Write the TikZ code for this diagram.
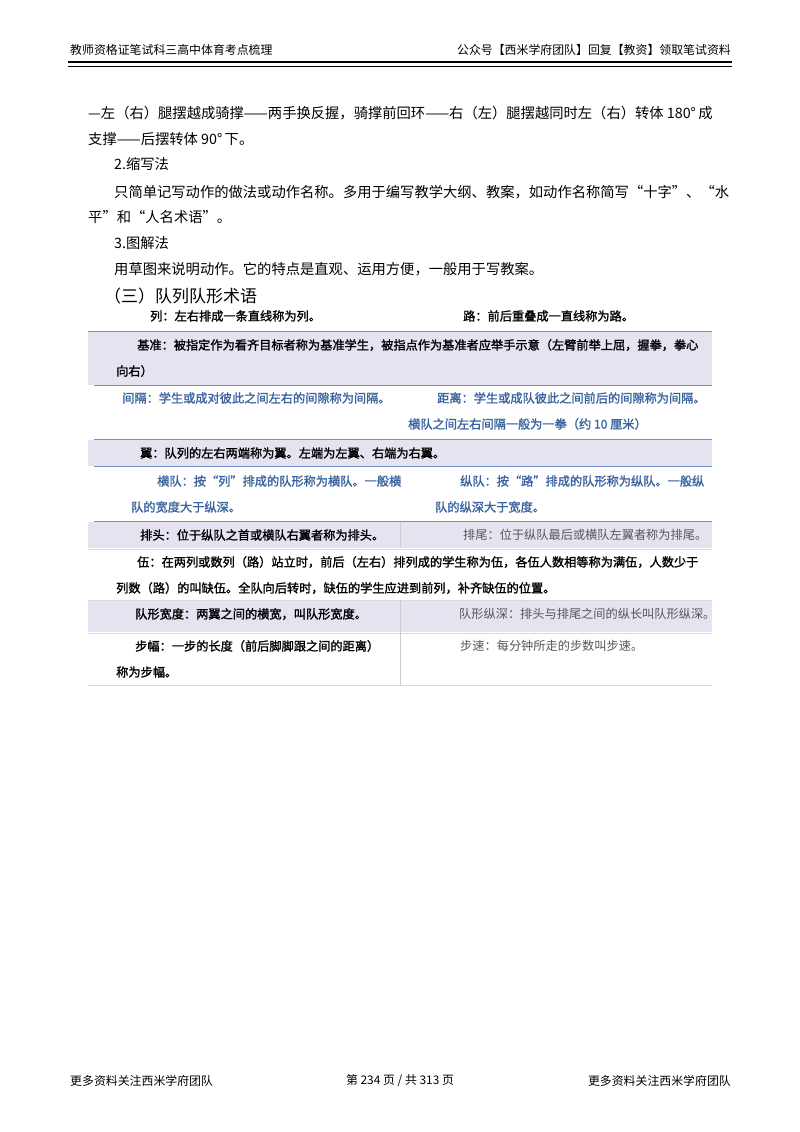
\documentclass[tikz,border=0pt]{standalone}
\usepackage{fontspec}
\setmainfont{Liberation Serif}
\newfontfamily\cjk{Noto Sans CJK SC}
\newfontfamily\cjkb{Noto Sans CJK SC}[FakeBold=1.5]
\definecolor{lav}{HTML}{E6E3F0}
\definecolor{bline}{HTML}{6F8FC6}
\definecolor{btext}{HTML}{3A64A0}
\definecolor{gtext}{HTML}{555555}
\begin{document}
\begin{tikzpicture}[x=1pt,y=-1pt,
  body/.style={anchor=west,inner sep=0,font=\cjk\fontsize{14.3}{16}\selectfont},
  tb/.style={anchor=west,inner sep=0,font=\cjkb\fontsize{12.2}{14}\selectfont},
  tbb/.style={tb,text=btext},
  tg/.style={anchor=west,inner sep=0,font=\cjk\fontsize{12.2}{14}\selectfont,text=gtext},
  hd/.style={anchor=west,inner sep=0,font=\cjk\fontsize{11.9}{13}\selectfont}]
\useasboundingbox (0,0) rectangle (800,1132);
\fill[white] (0,0) rectangle (800,1132);
% header
\node[hd] (h1) at (70,50) {教师资格证笔试科三高中体育考点梳理};
\node[hd,anchor=east] (h2) at (731,50) {公众号【西米学府团队】回复【教资】领取笔试资料};
\draw[line width=1.6pt] (68,62) -- (732,62);
\draw[line width=0.5pt] (68,66) -- (732,66);
% body
\node[body] (t1) at (88,113) {—左（右）腿摆越成骑撑——两手换反握，骑撑前回环——右（左）腿摆越同时左（右）转体 180°\,成};
\node[body] (t2) at (88,139) {支撑——后摆转体 90°\,下。};
\node[body] (t3) at (114,164) {2.缩写法};
\node[body] (t4) at (114,192) {只简单记写动作的做法或动作名称。多用于编写教学大纲、教案，如动作名称简写“十字”、“水};
\node[body] (t5) at (88,217) {平”和“人名术语”。};
\node[body] (t6) at (114,243) {3.图解法};
\node[body] (t7) at (114,269) {用草图来说明动作。它的特点是直观、运用方便，一般用于写教案。};
\node[body,font=\cjk\fontsize{17}{19}\selectfont] (t8) at (104,296) {（三）队列队形术语};
% table backgrounds
\fill[lav] (88,331) rectangle (712,385);
\fill[lav] (88,440) rectangle (712,466);
\fill[lav] (88,522) rectangle (712,548);
\fill[lav] (88,601) rectangle (712,632);
\draw[bline,line width=0.9pt] (88,331) -- (712,331);
\draw[bline,line width=0.9pt] (94,385) -- (712,385);
\draw[bline,line width=0.9pt] (94,439) -- (712,439);
\draw[bline,line width=0.9pt] (94,466) -- (712,466);
\draw[bline,line width=0.9pt] (94,521) -- (712,521);
\draw[gray!30,line width=0.6pt] (88,549) -- (712,549);
\draw[gray!30,line width=0.6pt] (88,600) -- (712,600);
\draw[gray!30,line width=0.6pt] (88,633) -- (712,633);
\draw[gray!30,line width=0.6pt] (88,685) -- (712,685);
\draw[gray!40,line width=0.6pt] (400,522) -- (400,548);
\draw[gray!40,line width=0.6pt] (400,601) -- (400,685);
% table text
\node[tb] (r1a) at (150,316) {列：左右排成一条直线称为列。};
\node[tb] (r1b) at (463,316) {路：前后重叠成一直线称为路。};
\node[tb] (r2a) at (137,345) {基准：被指定作为看齐目标者称为基准学生，被指点作为基准者应举手示意（左臂前举上屈，握拳，拳心};
\node[tb] (r2b) at (116,371) {向右）};
\node[tbb] (r3a) at (122,398) {间隔：学生或成对彼此之间左右的间隙称为间隔。};
\node[tbb] (r3b) at (437,398) {距离：学生或成队彼此之间前后的间隙称为间隔。};
\node[tbb] (r3c) at (408,424) {横队之间左右间隔一般为一拳（约 10 厘米）};
\node[tb] (r4) at (140,453) {翼：队列的左右两端称为翼。左端为左翼、右端为右翼。};
\node[tbb] (r5a) at (157,481) {横队：按“列”排成的队形称为横队。一般横};
\node[tbb] (r5b) at (131,507) {队的宽度大于纵深。};
\node[tbb] (r5c) at (460,481) {纵队：按“路”排成的队形称为纵队。一般纵};
\node[tbb] (r5d) at (435,507) {队的纵深大于宽度。};
\node[tb] (r6a) at (140,535) {排头：位于纵队之首或横队右翼者称为排头。};
\node[tg] (r6b) at (463,535) {排尾：位于纵队最后或横队左翼者称为排尾。};
\node[tb] (r7a) at (137,562) {伍：在两列或数列（路）站立时，前后（左右）排列成的学生称为伍，各伍人数相等称为满伍，人数少于};
\node[tb] (r7b) at (116,588) {列数（路）的叫缺伍。全队向后转时，缺伍的学生应进到前列，补齐缺伍的位置。};
\node[tb] (r8a) at (135,614) {队形宽度：两翼之间的横宽，叫队形宽度。};
\node[tg] (r8b) at (459,614) {队形纵深：排头与排尾之间的纵长叫队形纵深。};
\node[tb] (r9a) at (135,646) {步幅：一步的长度（前后脚脚跟之间的距离）};
\node[tb] (r9b) at (116,672) {称为步幅。};
\node[tg] (r9c) at (460,646) {步速：每分钟所走的步数叫步速。};
% footer
\node[hd] (f1) at (70,1081) {更多资料关注西米学府团队};
\node[hd,anchor=center] (f2) at (400,1081) {第 234 页 / 共 313 页};
\node[hd,anchor=east] (f3) at (731,1081) {更多资料关注西米学府团队};
\end{tikzpicture}
\end{document}
